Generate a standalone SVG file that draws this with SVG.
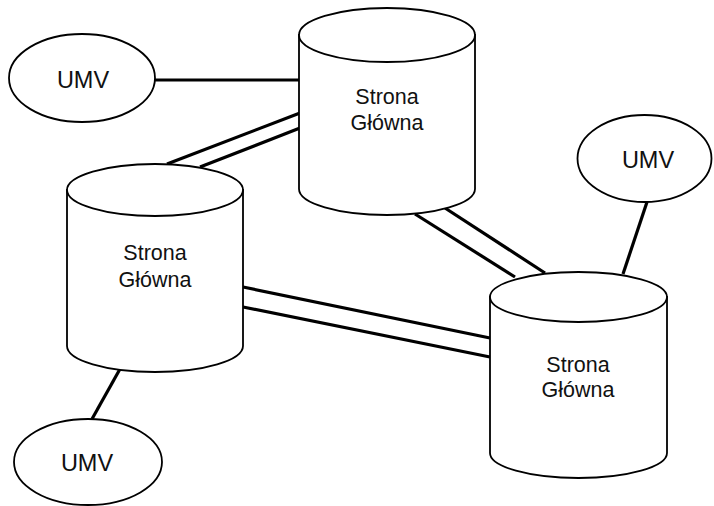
<svg xmlns="http://www.w3.org/2000/svg" width="714" height="506" viewBox="0 0 714 506">
<style>
.shape{fill:#fff;stroke:#000;stroke-width:1.8}
.conn{stroke:#000;stroke-width:3.2;fill:none}
.lbl{font-family:"Liberation Sans",Arial,sans-serif;font-size:21.5px;fill:#111;text-anchor:middle;dominant-baseline:central}
.umv{font-size:23.5px}
</style>
<rect width="714" height="506" fill="#fff"/>
<g id="connectors">
<line class="conn" x1="155" y1="80" x2="300" y2="80"/>
<line class="conn" x1="300" y1="113" x2="167" y2="164"/>
<line class="conn" x1="300" y1="128" x2="200" y2="167"/>
<line class="conn" x1="415" y1="214" x2="515" y2="277"/>
<line class="conn" x1="445" y1="208" x2="545" y2="273"/>
<line class="conn" x1="647" y1="202" x2="623" y2="274"/>
<line class="conn" x1="243" y1="287" x2="490" y2="338"/>
<line class="conn" x1="243" y1="307" x2="490" y2="357"/>
<line class="conn" x1="120" y1="369" x2="92" y2="419"/>
</g>
<g id="cyl-top">
<path class="shape" d="M299 35 L299 189 A88 26 0 0 0 475 189 L475 35 Z"/>
<ellipse class="shape" cx="387" cy="35" rx="88" ry="27"/>
<text class="lbl" x="387" y="97">Strona</text>
<text class="lbl" x="387" y="123">Główna</text>
</g>
<g id="cyl-left">
<path class="shape" d="M67 190 L67 346 A88 26 0 0 0 243 346 L243 190 Z"/>
<ellipse class="shape" cx="155" cy="190" rx="88" ry="26"/>
<text class="lbl" x="155" y="253">Strona</text>
<text class="lbl" x="155" y="280">Główna</text>
</g>
<g id="cyl-right">
<path class="shape" d="M490 297 L490 453 A88.5 25 0 0 0 667 453 L667 297 Z"/>
<ellipse class="shape" cx="578.5" cy="297" rx="88.5" ry="25"/>
<text class="lbl" x="578" y="365">Strona</text>
<text class="lbl" x="578" y="390">Główna</text>
</g>
<g id="umv-topleft">
<ellipse class="shape" cx="82" cy="78" rx="73" ry="44"/>
<text class="lbl umv" x="83" y="80">UMV</text>
</g>
<g id="umv-right">
<ellipse class="shape" cx="644.5" cy="158.5" rx="67" ry="43.5"/>
<text class="lbl umv" x="648" y="160">UMV</text>
</g>
<g id="umv-bottom">
<ellipse class="shape" cx="88" cy="462" rx="74" ry="43"/>
<text class="lbl umv" x="87" y="463">UMV</text>
</g>
</svg>
